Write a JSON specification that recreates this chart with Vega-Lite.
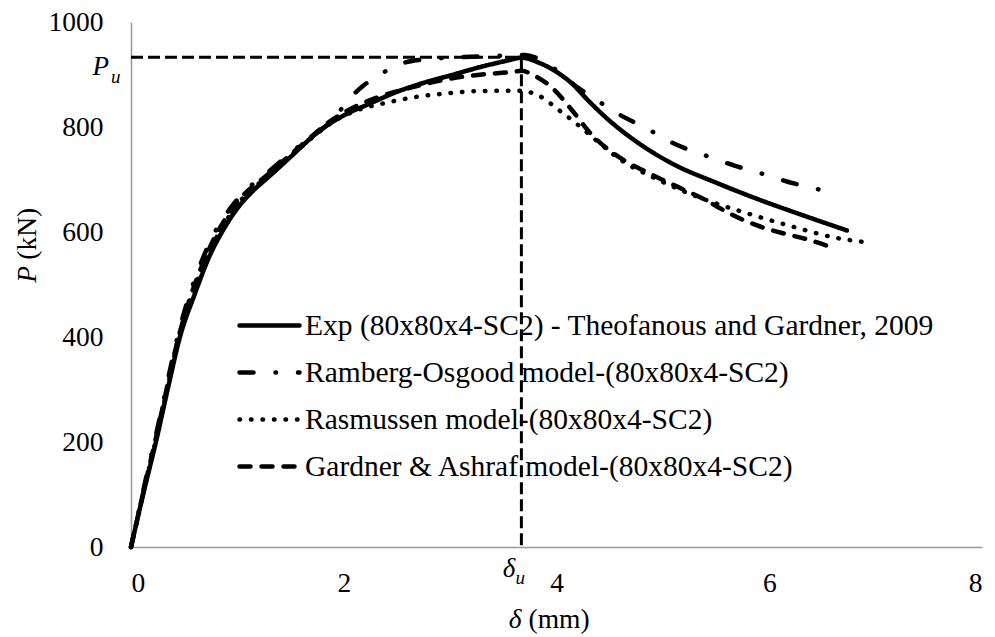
{
  "$schema": "https://vega.github.io/schema/vega-lite/v6.json",
  "width": 851,
  "height": 525,
  "autosize": {"type": "none"},
  "padding": {"left": 131, "top": 22, "right": 13, "bottom": 90},
  "background": "white",
  "config": {
    "view": {"stroke": null},
    "font": "Liberation Serif",
    "axis": {
      "grid": false,
      "ticks": false,
      "tickSize": 0,
      "domainColor": "#999999",
      "domainWidth": 1.5,
      "labelFont": "Liberation Serif",
      "labelFontSize": 27.5,
      "labelColor": "black"
    }
  },
  "datasets": {
    "curves": [
      {"s": "Exp (80x80x4-SC2) - Theofanous and Gardner, 2009", "d": 0, "p": 0},
      {"s": "Exp (80x80x4-SC2) - Theofanous and Gardner, 2009", "d": 0.12, "p": 105},
      {"s": "Exp (80x80x4-SC2) - Theofanous and Gardner, 2009", "d": 0.24, "p": 205},
      {"s": "Exp (80x80x4-SC2) - Theofanous and Gardner, 2009", "d": 0.35, "p": 305},
      {"s": "Exp (80x80x4-SC2) - Theofanous and Gardner, 2009", "d": 0.46, "p": 400},
      {"s": "Exp (80x80x4-SC2) - Theofanous and Gardner, 2009", "d": 0.6, "p": 482},
      {"s": "Exp (80x80x4-SC2) - Theofanous and Gardner, 2009", "d": 0.74, "p": 555},
      {"s": "Exp (80x80x4-SC2) - Theofanous and Gardner, 2009", "d": 0.87, "p": 605},
      {"s": "Exp (80x80x4-SC2) - Theofanous and Gardner, 2009", "d": 1.0, "p": 645},
      {"s": "Exp (80x80x4-SC2) - Theofanous and Gardner, 2009", "d": 1.15, "p": 679},
      {"s": "Exp (80x80x4-SC2) - Theofanous and Gardner, 2009", "d": 1.3, "p": 706},
      {"s": "Exp (80x80x4-SC2) - Theofanous and Gardner, 2009", "d": 1.5, "p": 743},
      {"s": "Exp (80x80x4-SC2) - Theofanous and Gardner, 2009", "d": 1.78, "p": 794},
      {"s": "Exp (80x80x4-SC2) - Theofanous and Gardner, 2009", "d": 2.0, "p": 822},
      {"s": "Exp (80x80x4-SC2) - Theofanous and Gardner, 2009", "d": 2.25, "p": 845},
      {"s": "Exp (80x80x4-SC2) - Theofanous and Gardner, 2009", "d": 2.5, "p": 867},
      {"s": "Exp (80x80x4-SC2) - Theofanous and Gardner, 2009", "d": 2.75, "p": 884},
      {"s": "Exp (80x80x4-SC2) - Theofanous and Gardner, 2009", "d": 3.0, "p": 898},
      {"s": "Exp (80x80x4-SC2) - Theofanous and Gardner, 2009", "d": 3.3, "p": 915},
      {"s": "Exp (80x80x4-SC2) - Theofanous and Gardner, 2009", "d": 3.55, "p": 927},
      {"s": "Exp (80x80x4-SC2) - Theofanous and Gardner, 2009", "d": 3.67, "p": 932},
      {"s": "Exp (80x80x4-SC2) - Theofanous and Gardner, 2009", "d": 3.84, "p": 922},
      {"s": "Exp (80x80x4-SC2) - Theofanous and Gardner, 2009", "d": 4.03, "p": 901},
      {"s": "Exp (80x80x4-SC2) - Theofanous and Gardner, 2009", "d": 4.15, "p": 882},
      {"s": "Exp (80x80x4-SC2) - Theofanous and Gardner, 2009", "d": 4.3, "p": 850},
      {"s": "Exp (80x80x4-SC2) - Theofanous and Gardner, 2009", "d": 4.47, "p": 817},
      {"s": "Exp (80x80x4-SC2) - Theofanous and Gardner, 2009", "d": 4.78, "p": 768},
      {"s": "Exp (80x80x4-SC2) - Theofanous and Gardner, 2009", "d": 5.09, "p": 730},
      {"s": "Exp (80x80x4-SC2) - Theofanous and Gardner, 2009", "d": 5.5, "p": 694},
      {"s": "Exp (80x80x4-SC2) - Theofanous and Gardner, 2009", "d": 5.9, "p": 662},
      {"s": "Exp (80x80x4-SC2) - Theofanous and Gardner, 2009", "d": 6.3, "p": 633},
      {"s": "Exp (80x80x4-SC2) - Theofanous and Gardner, 2009", "d": 6.73, "p": 603},

      {"s": "Ramberg-Osgood model-(80x80x4-SC2)", "d": 0, "p": 0},
      {"s": "Ramberg-Osgood model-(80x80x4-SC2)", "d": 0.12, "p": 112},
      {"s": "Ramberg-Osgood model-(80x80x4-SC2)", "d": 0.24, "p": 218},
      {"s": "Ramberg-Osgood model-(80x80x4-SC2)", "d": 0.46, "p": 418},
      {"s": "Ramberg-Osgood model-(80x80x4-SC2)", "d": 0.74, "p": 580},
      {"s": "Ramberg-Osgood model-(80x80x4-SC2)", "d": 1.0, "p": 662},
      {"s": "Ramberg-Osgood model-(80x80x4-SC2)", "d": 1.3, "p": 716},
      {"s": "Ramberg-Osgood model-(80x80x4-SC2)", "d": 1.6, "p": 767},
      {"s": "Ramberg-Osgood model-(80x80x4-SC2)", "d": 1.9, "p": 815},
      {"s": "Ramberg-Osgood model-(80x80x4-SC2)", "d": 2.06, "p": 855},
      {"s": "Ramberg-Osgood model-(80x80x4-SC2)", "d": 2.18, "p": 878},
      {"s": "Ramberg-Osgood model-(80x80x4-SC2)", "d": 2.35, "p": 901},
      {"s": "Ramberg-Osgood model-(80x80x4-SC2)", "d": 2.53, "p": 920},
      {"s": "Ramberg-Osgood model-(80x80x4-SC2)", "d": 2.72, "p": 928},
      {"s": "Ramberg-Osgood model-(80x80x4-SC2)", "d": 3.0, "p": 932},
      {"s": "Ramberg-Osgood model-(80x80x4-SC2)", "d": 3.4, "p": 935},
      {"s": "Ramberg-Osgood model-(80x80x4-SC2)", "d": 3.7, "p": 937},
      {"s": "Ramberg-Osgood model-(80x80x4-SC2)", "d": 3.85, "p": 928},
      {"s": "Ramberg-Osgood model-(80x80x4-SC2)", "d": 4.0, "p": 908},
      {"s": "Ramberg-Osgood model-(80x80x4-SC2)", "d": 4.2, "p": 875},
      {"s": "Ramberg-Osgood model-(80x80x4-SC2)", "d": 4.35, "p": 855},
      {"s": "Ramberg-Osgood model-(80x80x4-SC2)", "d": 4.58, "p": 825},
      {"s": "Ramberg-Osgood model-(80x80x4-SC2)", "d": 4.85, "p": 797},
      {"s": "Ramberg-Osgood model-(80x80x4-SC2)", "d": 5.11, "p": 768},
      {"s": "Ramberg-Osgood model-(80x80x4-SC2)", "d": 5.41, "p": 745},
      {"s": "Ramberg-Osgood model-(80x80x4-SC2)", "d": 5.68, "p": 726},
      {"s": "Ramberg-Osgood model-(80x80x4-SC2)", "d": 5.95, "p": 710},
      {"s": "Ramberg-Osgood model-(80x80x4-SC2)", "d": 6.24, "p": 692},
      {"s": "Ramberg-Osgood model-(80x80x4-SC2)", "d": 6.45, "p": 682},
      {"s": "Ramberg-Osgood model-(80x80x4-SC2)", "d": 6.64, "p": 669},

      {"s": "Rasmussen model-(80x80x4-SC2)", "d": 0, "p": 0},
      {"s": "Rasmussen model-(80x80x4-SC2)", "d": 0.12, "p": 106},
      {"s": "Rasmussen model-(80x80x4-SC2)", "d": 0.24, "p": 210},
      {"s": "Rasmussen model-(80x80x4-SC2)", "d": 0.46, "p": 405},
      {"s": "Rasmussen model-(80x80x4-SC2)", "d": 0.74, "p": 563},
      {"s": "Rasmussen model-(80x80x4-SC2)", "d": 1.0, "p": 652},
      {"s": "Rasmussen model-(80x80x4-SC2)", "d": 1.3, "p": 709},
      {"s": "Rasmussen model-(80x80x4-SC2)", "d": 1.6, "p": 762},
      {"s": "Rasmussen model-(80x80x4-SC2)", "d": 1.9, "p": 810},
      {"s": "Rasmussen model-(80x80x4-SC2)", "d": 2.1, "p": 830},
      {"s": "Rasmussen model-(80x80x4-SC2)", "d": 2.42, "p": 847},
      {"s": "Rasmussen model-(80x80x4-SC2)", "d": 2.7, "p": 858},
      {"s": "Rasmussen model-(80x80x4-SC2)", "d": 2.97, "p": 864},
      {"s": "Rasmussen model-(80x80x4-SC2)", "d": 3.2, "p": 868},
      {"s": "Rasmussen model-(80x80x4-SC2)", "d": 3.44, "p": 869},
      {"s": "Rasmussen model-(80x80x4-SC2)", "d": 3.66, "p": 869},
      {"s": "Rasmussen model-(80x80x4-SC2)", "d": 3.84, "p": 859},
      {"s": "Rasmussen model-(80x80x4-SC2)", "d": 4.03, "p": 831},
      {"s": "Rasmussen model-(80x80x4-SC2)", "d": 4.19, "p": 806},
      {"s": "Rasmussen model-(80x80x4-SC2)", "d": 4.4, "p": 770},
      {"s": "Rasmussen model-(80x80x4-SC2)", "d": 4.6, "p": 738},
      {"s": "Rasmussen model-(80x80x4-SC2)", "d": 4.9, "p": 705},
      {"s": "Rasmussen model-(80x80x4-SC2)", "d": 5.25, "p": 673},
      {"s": "Rasmussen model-(80x80x4-SC2)", "d": 5.42, "p": 660},
      {"s": "Rasmussen model-(80x80x4-SC2)", "d": 5.77, "p": 637},
      {"s": "Rasmussen model-(80x80x4-SC2)", "d": 6.26, "p": 608},
      {"s": "Rasmussen model-(80x80x4-SC2)", "d": 6.6, "p": 590},
      {"s": "Rasmussen model-(80x80x4-SC2)", "d": 6.93, "p": 580},

      {"s": "Gardner & Ashraf model-(80x80x4-SC2)", "d": 0, "p": 0},
      {"s": "Gardner & Ashraf model-(80x80x4-SC2)", "d": 0.12, "p": 108},
      {"s": "Gardner & Ashraf model-(80x80x4-SC2)", "d": 0.24, "p": 213},
      {"s": "Gardner & Ashraf model-(80x80x4-SC2)", "d": 0.46, "p": 410},
      {"s": "Gardner & Ashraf model-(80x80x4-SC2)", "d": 0.74, "p": 570},
      {"s": "Gardner & Ashraf model-(80x80x4-SC2)", "d": 1.0, "p": 657},
      {"s": "Gardner & Ashraf model-(80x80x4-SC2)", "d": 1.3, "p": 712},
      {"s": "Gardner & Ashraf model-(80x80x4-SC2)", "d": 1.6, "p": 765},
      {"s": "Gardner & Ashraf model-(80x80x4-SC2)", "d": 1.9, "p": 815},
      {"s": "Gardner & Ashraf model-(80x80x4-SC2)", "d": 2.1, "p": 838},
      {"s": "Gardner & Ashraf model-(80x80x4-SC2)", "d": 2.34, "p": 858},
      {"s": "Gardner & Ashraf model-(80x80x4-SC2)", "d": 2.65, "p": 876},
      {"s": "Gardner & Ashraf model-(80x80x4-SC2)", "d": 2.97, "p": 891},
      {"s": "Gardner & Ashraf model-(80x80x4-SC2)", "d": 3.3, "p": 900},
      {"s": "Gardner & Ashraf model-(80x80x4-SC2)", "d": 3.59, "p": 905},
      {"s": "Gardner & Ashraf model-(80x80x4-SC2)", "d": 3.67, "p": 907},
      {"s": "Gardner & Ashraf model-(80x80x4-SC2)", "d": 3.8, "p": 897},
      {"s": "Gardner & Ashraf model-(80x80x4-SC2)", "d": 3.94, "p": 878},
      {"s": "Gardner & Ashraf model-(80x80x4-SC2)", "d": 4.15, "p": 831},
      {"s": "Gardner & Ashraf model-(80x80x4-SC2)", "d": 4.31, "p": 790},
      {"s": "Gardner & Ashraf model-(80x80x4-SC2)", "d": 4.6, "p": 741},
      {"s": "Gardner & Ashraf model-(80x80x4-SC2)", "d": 4.88, "p": 711},
      {"s": "Gardner & Ashraf model-(80x80x4-SC2)", "d": 5.16, "p": 684},
      {"s": "Gardner & Ashraf model-(80x80x4-SC2)", "d": 5.35, "p": 666},
      {"s": "Gardner & Ashraf model-(80x80x4-SC2)", "d": 5.7, "p": 628},
      {"s": "Gardner & Ashraf model-(80x80x4-SC2)", "d": 5.92, "p": 610},
      {"s": "Gardner & Ashraf model-(80x80x4-SC2)", "d": 6.14, "p": 597},
      {"s": "Gardner & Ashraf model-(80x80x4-SC2)", "d": 6.34, "p": 587},
      {"s": "Gardner & Ashraf model-(80x80x4-SC2)", "d": 6.6, "p": 570}
    ],
    "refs": [
      {"d": 0, "p": 933, "d2": 3.67, "p2": 933},
      {"d": 3.67, "p": 933, "d2": 3.67, "p2": 0}
    ],
    "pu": [{"d": 0, "p": 933}],
    "du": [{"d": 3.67, "p": 0}],
    "xt": [{"d": 4, "p": 0}],
    "yt": [{"d": 0, "p": 574}]
  },
  "layer": [
    {
      "data": {"name": "curves"},
      "mark": {"type": "line", "strokeWidth": 4.5, "strokeCap": "round", "strokeJoin": "round", "color": "black", "interpolate": "monotone"},
      "encoding": {
        "x": {"field": "d", "type": "quantitative", "title": null, "scale": {"domain": [0, 8], "nice": false, "zero": false}, "axis": {"values": [0, 2, 4, 6, 8], "format": "d", "labelPadding": 22, "title": null}},
        "y": {"field": "p", "type": "quantitative", "title": null, "scale": {"domain": [0, 1000], "nice": false}, "axis": {"values": [0, 200, 400, 600, 800, 1000], "format": "d", "labelPadding": 28, "title": null}},
        "strokeDash": {
          "field": "s",
          "type": "nominal",
          "sort": null,
          "scale": {
            "domain": [
              "Exp (80x80x4-SC2) - Theofanous and Gardner, 2009",
              "Ramberg-Osgood model-(80x80x4-SC2)",
              "Rasmussen model-(80x80x4-SC2)",
              "Gardner & Ashraf model-(80x80x4-SC2)"
            ],
            "range": [[1, 0], [14, 22, 0.5, 22], [0.5, 11], [11, 11]]
          },
          "legend": {
            "orient": "none",
            "legendX": 106,
            "legendY": 271,
            "title": null,
            "symbolType": "stroke",
            "symbolSize": 3600,
            "symbolStrokeWidth": 4.5,
            "symbolStrokeColor": "black",
            "labelFont": "Liberation Serif",
            "labelFontSize": 29.5,
            "labelColor": "black",
            "labelOffset": 3,
            "labelLimit": 2000,
            "rowPadding": -11,
            "encode": {"symbols": {"update": {"strokeCap": {"value": "round"}}}}
          }
        }
      }
    },
    {
      "data": {"name": "refs"},
      "mark": {"type": "rule", "strokeWidth": 3, "strokeDash": [12, 5], "color": "black"},
      "encoding": {
        "x": {"field": "d", "type": "quantitative", "title": null},
        "y": {"field": "p", "type": "quantitative", "title": null},
        "x2": {"field": "d2"},
        "y2": {"field": "p2"}
      }
    },
    {
      "data": {"name": "pu"},
      "mark": {"type": "text", "text": "P", "font": "Liberation Serif", "fontStyle": "italic", "fontSize": 27, "align": "right", "baseline": "middle", "dx": -22, "dy": 10, "color": "black"},
      "encoding": {"x": {"field": "d", "type": "quantitative", "title": null}, "y": {"field": "p", "type": "quantitative", "title": null}}
    },
    {
      "data": {"name": "pu"},
      "mark": {"type": "text", "text": "u", "font": "Liberation Serif", "fontStyle": "italic", "fontSize": 19, "align": "left", "baseline": "middle", "dx": -20, "dy": 20, "color": "black"},
      "encoding": {"x": {"field": "d", "type": "quantitative", "title": null}, "y": {"field": "p", "type": "quantitative", "title": null}}
    },
    {
      "data": {"name": "du"},
      "mark": {"type": "text", "text": "δ", "font": "Liberation Serif", "fontStyle": "italic", "fontSize": 27, "align": "right", "baseline": "middle", "dx": -6, "dy": 22, "color": "black"},
      "encoding": {"x": {"field": "d", "type": "quantitative", "title": null}, "y": {"field": "p", "type": "quantitative", "title": null}}
    },
    {
      "data": {"name": "du"},
      "mark": {"type": "text", "text": "u", "font": "Liberation Serif", "fontStyle": "italic", "fontSize": 19, "align": "left", "baseline": "middle", "dx": -6, "dy": 31, "color": "black"},
      "encoding": {"x": {"field": "d", "type": "quantitative", "title": null}, "y": {"field": "p", "type": "quantitative", "title": null}}
    },
    {
      "data": {"name": "xt"},
      "mark": {"type": "text", "text": "δ", "font": "Liberation Serif", "fontStyle": "italic", "fontSize": 27.5, "align": "right", "baseline": "middle", "dx": -35, "dy": 73, "color": "black"},
      "encoding": {"x": {"field": "d", "type": "quantitative", "title": null}, "y": {"field": "p", "type": "quantitative", "title": null}}
    },
    {
      "data": {"name": "xt"},
      "mark": {"type": "text", "text": "(mm)", "font": "Liberation Serif", "fontSize": 27.5, "align": "left", "baseline": "middle", "dx": -28, "dy": 73, "color": "black"},
      "encoding": {"x": {"field": "d", "type": "quantitative", "title": null}, "y": {"field": "p", "type": "quantitative", "title": null}}
    },
    {
      "data": {"name": "yt"},
      "mark": {"type": "text", "text": "P", "font": "Liberation Serif", "fontStyle": "italic", "fontSize": 27.5, "align": "left", "baseline": "middle", "angle": 270, "dx": -37, "dy": -103, "color": "black"},
      "encoding": {"x": {"field": "d", "type": "quantitative", "title": null}, "y": {"field": "p", "type": "quantitative", "title": null}}
    },
    {
      "data": {"name": "yt"},
      "mark": {"type": "text", "text": "(kN)", "font": "Liberation Serif", "fontSize": 27.5, "align": "left", "baseline": "middle", "angle": 270, "dx": -14, "dy": -103, "color": "black"},
      "encoding": {"x": {"field": "d", "type": "quantitative", "title": null}, "y": {"field": "p", "type": "quantitative", "title": null}}
    }
  ]
}
